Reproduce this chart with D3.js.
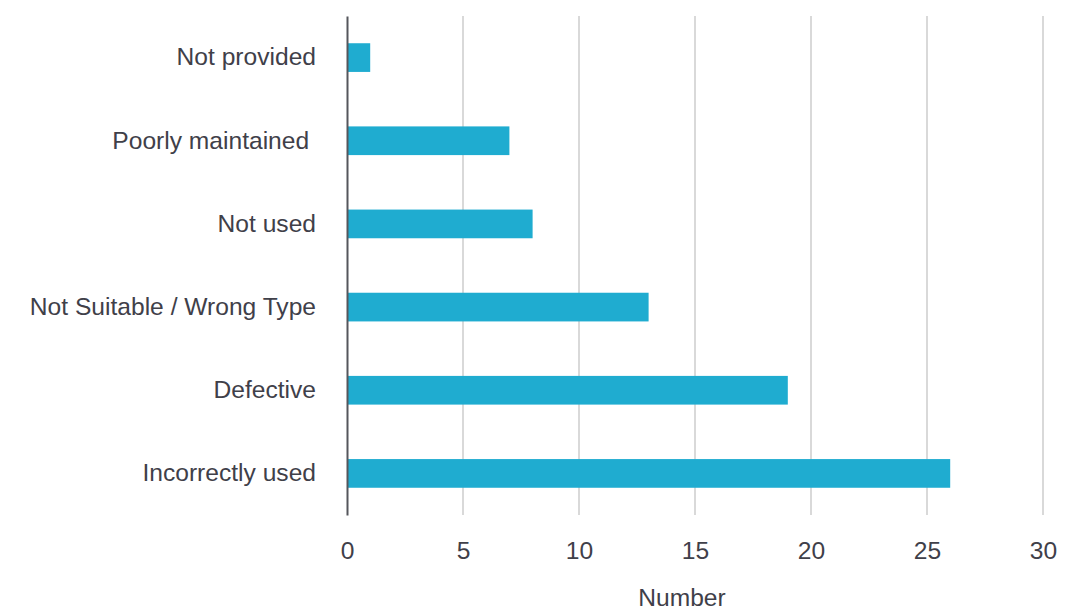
<!DOCTYPE html>
<html>
<head>
<meta charset="utf-8">
<script src="https://cdn.jsdelivr.net/npm/d3@7/dist/d3.min.js"></script>
<style>
  html, body { margin: 0; padding: 0; background: #ffffff; }
  svg { display: block; }
  svg text { font-family: "Liberation Sans", Arimo, Arial, sans-serif; white-space: pre; }
</style>
</head>
<body>
<svg id="chart" width="1077" height="610"></svg>
<script>
// Reasons recorded, top to bottom
const categories = [
  "Not provided",
  "Poorly maintained ",
  "Not used",
  "Not Suitable / Wrong Type",
  "Defective",
  "Incorrectly used"
];
// Count for each reason
const counts = [1, 7, 8, 13, 19, 26];
// Horizontal axis ticks
const xTicks = [0, 5, 10, 15, 20, 25, 30];
const xTitle = "Number";

const svg = d3.select("#chart");
const plotLeft = 347, plotRight = 1043, plotTop = 16, plotBottom = 515;
const textColor = "#3f4049";
const fontSize = 24.6;

const x = d3.scaleLinear().domain([0, 30]).range([plotLeft, plotRight]);
const y = d3.scaleBand().domain(categories).range([plotTop, plotBottom])
  .paddingInner(0.655).paddingOuter(0.3275);

// Vertical gridlines
svg.append("g")
  .selectAll("line")
  .data(xTicks.filter(t => t !== 0))
  .join("line")
  .attr("x1", d => x(d)).attr("x2", d => x(d))
  .attr("y1", plotTop).attr("y2", plotBottom)
  .attr("stroke", "#d9d9d9")
  .attr("stroke-width", 2);

// Bars
svg.append("g")
  .selectAll("rect")
  .data(categories)
  .join("rect")
  .attr("x", x(0))
  .attr("y", d => y(d))
  .attr("width", (d, i) => x(counts[i]) - x(0))
  .attr("height", y.bandwidth())
  .attr("fill", "#1facd0");

// Category axis (line only, labels placed beside it)
const yAxis = d3.axisLeft(y).tickSize(0).tickPadding(31);
const gy = svg.append("g").attr("transform", `translate(${x(0)},0)`).call(yAxis);
gy.attr("font-family", null);
gy.select(".domain").attr("stroke", "#55565c").attr("stroke-width", 2);
gy.selectAll("text")
  .attr("fill", textColor)
  .attr("font-size", fontSize);

// Value axis tick labels
const xAxis = d3.axisBottom(x).tickValues(xTicks).tickSize(0).tickPadding(27);
const gx = svg.append("g").attr("transform", `translate(0,${plotBottom})`).call(xAxis);
gx.attr("font-family", null);
gx.select(".domain").remove();
gx.selectAll("text")
  .attr("fill", textColor)
  .attr("font-size", fontSize);

// Axis title
svg.append("text")
  .attr("x", 682)
  .attr("y", 606)
  .attr("text-anchor", "middle")
  .attr("fill", textColor)
  .attr("font-size", fontSize)
  .text(xTitle);
</script>
</body>
</html>
